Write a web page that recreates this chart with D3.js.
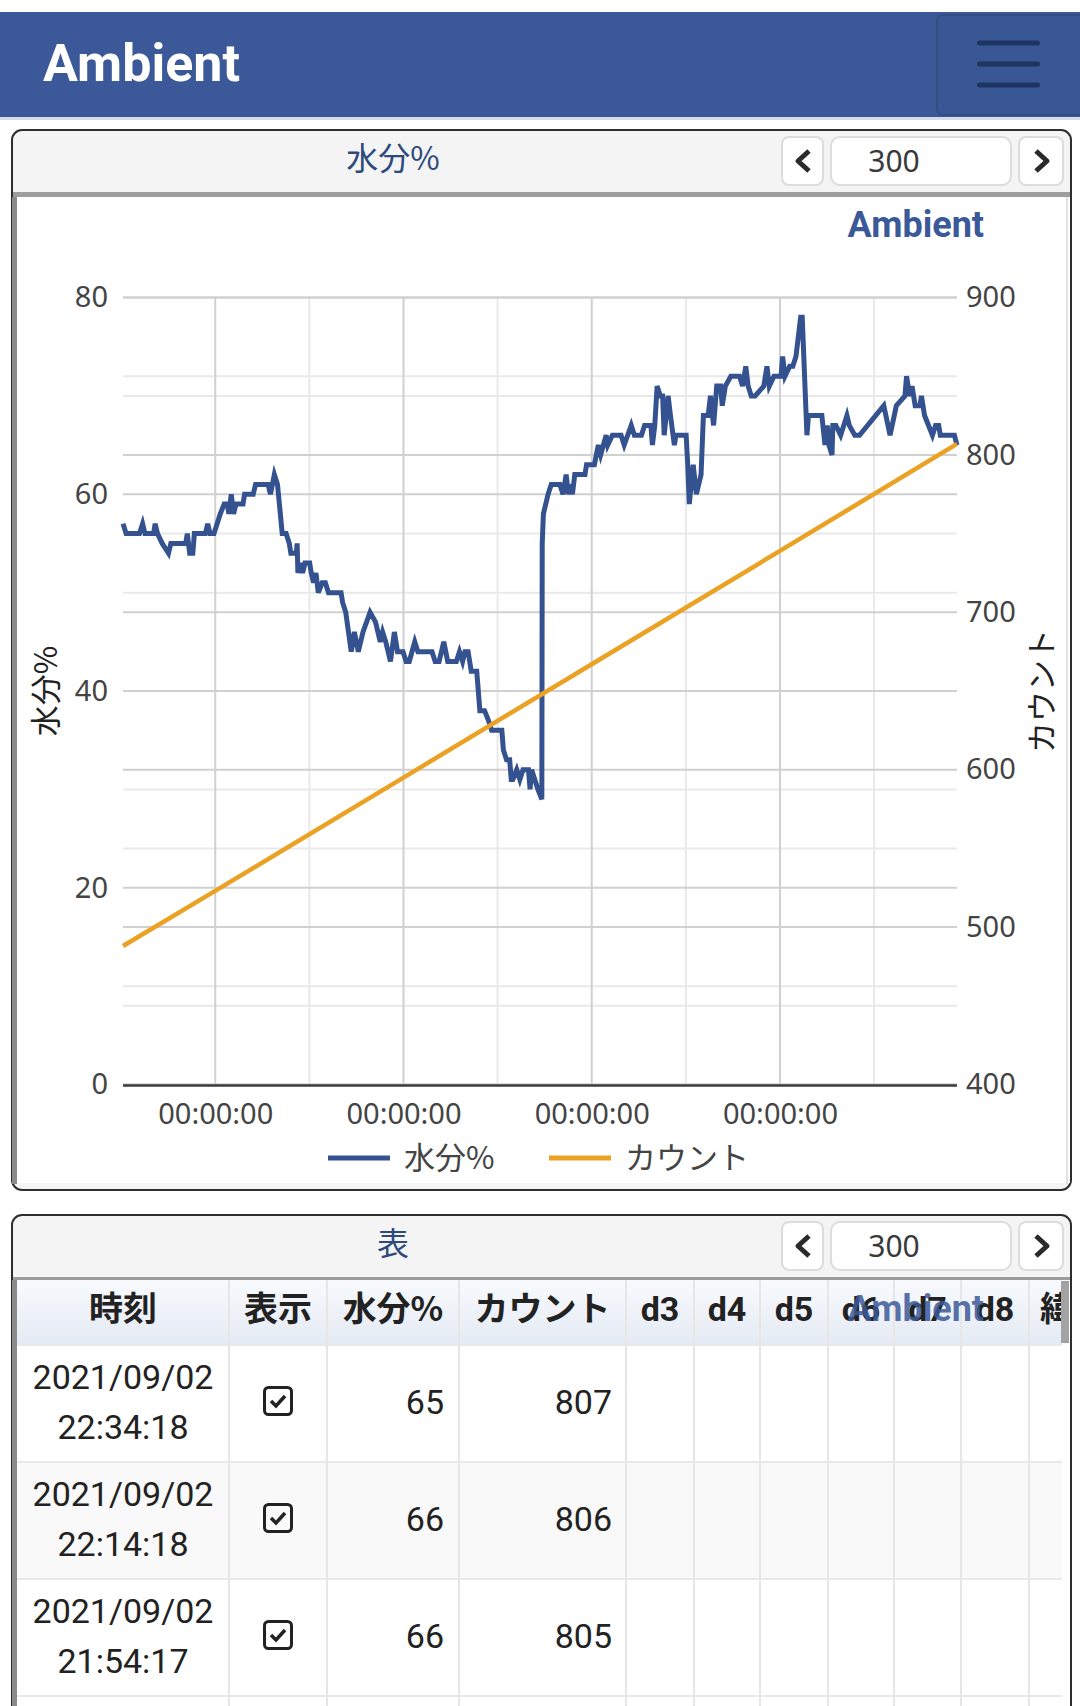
<!DOCTYPE html>
<html>
<head>
<meta charset="utf-8">
<script src="https://cdn.jsdelivr.net/npm/d3@7"></script>
<style>
  html, body { margin: 0; padding: 0; background: #fff; }
  svg { display: block; font-family: Roboto, "Noto Sans CJK JP", sans-serif; }
</style>
</head>
<body>
<svg id="page"></svg>
<script>
// ---- data ----
const startTime = "2021-08-29T12:14:18";
const endTime = "2021-09-02T22:34:18";

// hours since startTime, and moisture %
const moistureHours = [
  0, 0.4, 2.1, 2.5, 2.8, 3.9, 4.1, 4.4, 5.0, 5.8, 6.1, 8.0, 8.2, 8.5, 8.9, 9.1,
  10.5, 10.8, 11.1, 11.6, 12.0, 12.4, 12.9, 13.3, 13.5, 13.8, 14.1, 14.4, 15.3,
  15.5, 16.6, 16.9, 18.5, 18.8, 19.3, 19.7, 20.3, 20.8, 21.2, 21.4, 22.1, 22.2,
  22.3, 22.6, 22.9, 23.2, 23.8, 24.0, 24.3, 24.6, 24.9, 25.4, 25.8, 26.2, 27.8,
  28.0, 28.4, 29.1, 29.5, 30.0, 30.6, 31.5, 32.2, 32.8, 33.1, 33.5, 34.1, 34.6,
  35.0, 35.7, 36.1, 36.5, 37.2, 37.6, 39.4, 39.8, 40.3, 40.9, 41.4, 42.5, 42.9,
  43.3, 43.6, 44.0, 44.4, 45.1, 45.3, 45.5, 46.1, 46.6, 47.0, 47.6, 48.3, 48.5,
  48.9, 49.3, 49.5, 49.7, 50.2, 50.6, 51.0, 51.7, 51.9, 52.1, 52.5, 52.9, 53.4,
  53.45, 53.6, 54.2, 54.6, 55.7, 56.1, 56.5, 56.8, 57.0, 57.3, 57.6, 58.9, 59.1,
  60.1, 60.6, 60.9, 61.6, 61.8, 62.4, 63.5, 63.9, 64.8, 65.2, 66.1, 66.5, 67.3,
  67.5, 67.8, 68.1, 68.5, 68.8, 69.0, 69.5, 69.8, 70.3, 70.5, 71.8, 72.0, 72.2,
  72.7, 73.1, 73.7, 74.0, 74.6, 74.9, 75.3, 75.7, 76.2, 76.4, 76.8, 77.5, 78.6,
  79.0, 79.4, 79.7, 80.1, 80.6, 81.7, 82.1, 82.4, 83.0, 83.9, 84.1, 84.4, 85.0,
  85.4, 85.8, 86.4, 86.6, 87.2, 87.4, 89.1, 89.5, 89.8, 90.0, 90.4, 90.5, 90.9,
  91.5, 92.3, 92.6, 93.3, 93.9, 97.0, 97.8, 98.6, 99.7, 99.9, 100.3, 100.6,
  101.0, 101.6, 101.8, 102.2, 103.2, 103.6, 104.0, 104.2, 106.0, 106.33
];
const moistureValues = [
  57, 56, 56, 57, 56, 56, 57, 56, 55, 54, 55, 55, 56, 54, 54, 56,
  56, 57, 56, 56, 57, 58, 59, 59, 58, 60, 58, 59, 59,
  60, 60, 61, 61, 60, 62, 61, 56, 56, 55, 54, 54, 55,
  52, 53, 52, 53, 53, 52, 51, 52, 50, 51, 51, 50, 50,
  49, 48, 44, 46, 44, 46, 48, 47, 45, 46, 45, 43, 46,
  44, 44, 43, 43, 45, 44, 44, 43, 43, 45, 43, 43, 44,
  43, 44, 44, 42, 42, 40, 38, 38, 37, 36, 36, 36, 34,
  33, 33, 31, 31, 32, 31, 32, 32, 30, 32, 31, 30, 29,
  55, 58, 60, 61, 61, 60, 62, 60, 61, 60, 62, 62, 63,
  63, 65, 64, 66, 65, 66, 66, 65, 67, 66, 66, 67, 67,
  65, 67, 71, 70, 70, 66, 70, 68, 65, 66, 66, 63, 59,
  63, 60, 62, 68, 68, 70, 67, 71, 71, 69, 71, 72, 72,
  71, 73, 71, 70, 70, 71, 73, 71, 72, 72, 74, 72, 73,
  73, 74, 78, 78, 66, 68, 68, 65, 67, 65, 64, 67, 67,
  66, 68, 67, 66, 66, 69, 66, 69, 70, 72, 70, 71,
  69, 69, 70, 68, 66, 67, 67, 66, 66, 65
];

// count readings (hours since startTime)
const countHours = [0, 11.76, 35.76, 59.76, 83.76, 106.33];
const countValues = [488, 523, 595, 667, 739, 807];

const leftTicks = [0, 20, 40, 60, 80];
const rightTicks = [400, 500, 600, 700, 800, 900];
const seriesNames = ["水分%", "カウント"];
const pointCount = "300";

const tableColumns = ["時刻", "表示", "水分%", "カウント", "d3", "d4", "d5", "d6", "d7", "d8", "緯度"];
const tableDates = ["2021/09/02", "2021/09/02", "2021/09/02"];
const tableTimes = ["22:34:18", "22:14:18", "21:54:17"];
const tableMoisture = [65, 66, 66];
const tableCount = [807, 806, 805];

// ---- layout ----
const W = 1080, H = 1706;
const plot = { left: 123, right: 957, top: 297.5, bottom: 1084.5 };
const colEdges = [17, 229, 327, 459, 626, 694, 760, 828, 894, 961, 1029, 1115];
const rowTop = 1345, rowH = 117;

const BLUE = "#34528f";
const ORANGE = "#eba224";
const NAVY = "#3b5998";
const chartFont = "'Noto Sans', 'Noto Sans CJK JP', sans-serif";
const cjkFont = "'Noto Sans CJK JP', 'Noto Sans', sans-serif";

const svg = d3.select("#page").attr("width", W).attr("height", H);
const defs = svg.append("defs");

const g1 = defs.append("linearGradient").attr("id", "thGrad")
  .attr("x1", 0).attr("x2", 0).attr("y1", 0).attr("y2", 1);
g1.append("stop").attr("offset", "0%").attr("stop-color", "#f8fafd");
g1.append("stop").attr("offset", "100%").attr("stop-color", "#e4eaf4");

defs.append("clipPath").attr("id", "panelClip")
  .append("rect").attr("x", 17).attr("y", 1280).attr("width", 1045).attr("height", 430);

defs.append("clipPath").attr("id", "plotClip")
  .append("rect").attr("x", plot.left - 4).attr("y", plot.top - 6)
  .attr("width", plot.right - plot.left + 8).attr("height", plot.bottom - plot.top + 8);

// ---- top bar ----
svg.append("rect").attr("x", 0).attr("y", 12).attr("width", W).attr("height", 105).attr("fill", NAVY);
svg.append("rect").attr("x", 0).attr("y", 117).attr("width", W).attr("height", 3).attr("fill", "#d3dce8");
svg.append("rect").attr("x", 937).attr("y", 15).attr("width", 150).attr("height", 100).attr("rx", 6)
  .attr("fill", "#3a5795").attr("stroke", "#324c84").attr("stroke-width", 2);
[43, 64, 85].forEach(y => {
  svg.append("rect").attr("x", 977).attr("y", y - 2.5).attr("width", 63).attr("height", 5)
    .attr("rx", 2.5).attr("fill", "#1e3461");
});
svg.append("text").attr("x", 43).attr("y", 81).text("Ambient")
  .attr("font-family", "Roboto").attr("font-weight", 700).attr("font-size", 52).attr("fill", "#fff");

// ---- panel helper ----
function panel(top, bottom, title) {
  svg.append("rect").attr("x", 12).attr("y", top).attr("width", 1059).attr("height", bottom - top)
    .attr("rx", 10).attr("fill", "#f4f4f4").attr("stroke", "#2e2e2e").attr("stroke-width", 2);
  svg.append("rect").attr("x", 13).attr("y", top + 62).attr("width", 1057).attr("height", 5).attr("fill", "#9d9d9d");
  svg.append("text").attr("x", 393).attr("y", top + 29).attr("dy", "0.35em").attr("text-anchor", "middle")
    .attr("font-family", cjkFont).attr("font-size", 32).attr("fill", "#2d4a7b").text(title);

  const btnTop = top + 7;
  const btn = (x, w, rx) => svg.append("rect").attr("x", x).attr("y", btnTop).attr("width", w).attr("height", 48)
    .attr("rx", rx).attr("fill", "#fff").attr("stroke", "#dcdcdc").attr("stroke-width", 2);
  btn(782, 41, 7);
  btn(831, 180, 9);
  btn(1019, 44, 7);
  const cy = btnTop + 24;
  svg.append("path").attr("d", `M809,${cy - 10} L798,${cy} L809,${cy + 10}`)
    .attr("fill", "none").attr("stroke", "#2a2a2a").attr("stroke-width", 5).attr("stroke-linejoin", "round");
  svg.append("path").attr("d", `M1036,${cy - 10} L1047,${cy} L1036,${cy + 10}`)
    .attr("fill", "none").attr("stroke", "#2a2a2a").attr("stroke-width", 5).attr("stroke-linejoin", "round");
  svg.append("text").attr("x", 894).attr("y", cy).attr("dy", "0.35em").attr("text-anchor", "middle")
    .attr("font-family", chartFont).attr("font-size", 30).attr("fill", "#3a3a3a").text(pointCount);
}

// ---- chart panel ----
panel(130, 1190, "水分%");
svg.append("rect").attr("x", 13).attr("y", 197).attr("width", 1057).attr("height", 986).attr("fill", "#fff");
svg.append("rect").attr("x", 12).attr("y", 197).attr("width", 5).attr("height", 987).attr("fill", "#8b8b8b");
svg.append("rect").attr("x", 1066).attr("y", 197).attr("width", 2).attr("height", 987).attr("fill", "#e2e2e2");

svg.append("text").attr("x", 984).attr("y", 237).attr("text-anchor", "end")
  .attr("font-family", "Roboto").attr("font-weight", 700).attr("font-size", 36).attr("fill", NAVY).text("Ambient");

const t0 = new Date(startTime), t1 = new Date(endTime);
const toDate = h => new Date(t0.getTime() + h * 3600e3);

const x = d3.scaleTime().domain([t0, t1]).range([plot.left, plot.right]);
const yL = d3.scaleLinear().domain([leftTicks[0], leftTicks[leftTicks.length - 1]]).range([plot.bottom, plot.top]);
const yR = d3.scaleLinear().domain([rightTicks[0], rightTicks[rightTicks.length - 1]]).range([plot.bottom, plot.top]);

const grid = svg.append("g");
const minorY = yL.ticks(8).filter(v => !leftTicks.includes(v)).map(yL)
  .concat(yR.ticks(10).filter(v => !rightTicks.includes(v)).map(yR));
const majorY = leftTicks.map(yL).concat(rightTicks.map(yR));
const halfDays = x.ticks(d3.timeHour.every(12));
const minorX = halfDays.filter(d => d.getHours() !== 0).map(x);
const majorX = halfDays.filter(d => d.getHours() === 0).map(x);

grid.selectAll(".minorY").data(minorY).join("line")
  .attr("x1", plot.left).attr("x2", plot.right).attr("y1", d => d).attr("y2", d => d)
  .attr("stroke", "#e9e9e9").attr("stroke-width", 2);
grid.selectAll(".minorX").data(minorX).join("line")
  .attr("x1", d => d).attr("x2", d => d).attr("y1", plot.top).attr("y2", plot.bottom)
  .attr("stroke", "#e9e9e9").attr("stroke-width", 2);
grid.selectAll(".majorY").data(majorY).join("line")
  .attr("x1", plot.left).attr("x2", plot.right).attr("y1", d => d).attr("y2", d => d)
  .attr("stroke", "#d0d0d0").attr("stroke-width", 2);
grid.selectAll(".majorX").data(majorX).join("line")
  .attr("x1", d => d).attr("x2", d => d).attr("y1", plot.top).attr("y2", plot.bottom)
  .attr("stroke", "#d0d0d0").attr("stroke-width", 2);

svg.append("line").attr("x1", plot.left).attr("x2", plot.right)
  .attr("y1", plot.bottom + 1).attr("y2", plot.bottom + 1).attr("stroke", "#3c3c3c").attr("stroke-width", 2.5);

// axes labels via d3 axes
const styleAxis = (sel, size) => {
  sel.select(".domain").remove();
  sel.selectAll(".tick line").remove();
  sel.selectAll("text").attr("font-size", size).attr("fill", "#444").attr("font-family", chartFont);
};
svg.append("g").attr("transform", `translate(${plot.left},0)`)
  .call(d3.axisLeft(yL).tickValues(leftTicks).tickSize(0).tickPadding(15))
  .call(sel => styleAxis(sel, 29));
svg.append("g").attr("transform", `translate(${plot.right},0)`)
  .call(d3.axisRight(yR).tickValues(rightTicks).tickSize(0).tickPadding(9))
  .call(sel => styleAxis(sel, 29));
svg.append("g").attr("transform", `translate(0,${plot.bottom})`)
  .call(d3.axisBottom(x).ticks(d3.timeDay.every(1)).tickFormat(d3.timeFormat("%H:%M:%S")).tickSize(0).tickPadding(19))
  .call(sel => styleAxis(sel, 29));

const midY = (plot.top + plot.bottom) / 2;
svg.append("text").attr("transform", `translate(46,${midY}) rotate(-90)`)
  .attr("text-anchor", "middle").attr("dy", "0.35em").attr("font-family", cjkFont)
  .attr("font-size", 31).attr("fill", "#222").text(seriesNames[0]);
svg.append("text").attr("transform", `translate(1042,${midY}) rotate(-90)`)
  .attr("text-anchor", "middle").attr("dy", "0.35em").attr("font-family", cjkFont)
  .attr("font-size", 31).attr("fill", "#222").text(seriesNames[1]);

// lines
const moisture = moistureHours.map((h, i) => ({ t: toDate(h), v: moistureValues[i] }));
const counts = countHours.map((h, i) => ({ t: toDate(h), v: countValues[i] }));

const lines = svg.append("g").attr("clip-path", "url(#plotClip)");
lines.append("path").datum(moisture)
  .attr("d", d3.line().x(d => x(d.t)).y(d => yL(d.v)))
  .attr("fill", "none").attr("stroke", BLUE).attr("stroke-width", 5);
lines.append("path").datum(counts)
  .attr("d", d3.line().x(d => x(d.t)).y(d => yR(d.v)))
  .attr("fill", "none").attr("stroke", ORANGE).attr("stroke-width", 4.5);

// legend
const legend = [{ x: 328, c: BLUE }, { x: 549, c: ORANGE }];
legend.forEach((l, i) => {
  svg.append("rect").attr("x", l.x).attr("y", 1155.5).attr("width", 62).attr("height", 5).attr("fill", l.c);
  svg.append("text").attr("x", l.x + 76).attr("y", 1158).attr("dy", "0.35em").attr("font-family", cjkFont)
    .attr("font-size", 31).attr("fill", "#444").text(seriesNames[i]);
});

// ---- table panel ----
panel(1215, 1730, "表");
svg.append("rect").attr("x", 13).attr("y", 1280).attr("width", 1057).attr("height", 430).attr("fill", "#fff");

const tbl = svg.append("g").attr("clip-path", "url(#panelClip)");
tbl.append("rect").attr("x", 17).attr("y", 1280).attr("width", 1100).attr("height", rowTop - 1280)
  .attr("fill", "url(#thGrad)");
tableDates.forEach((d, i) => {
  if (i % 2 === 1) {
    tbl.append("rect").attr("x", 17).attr("y", rowTop + i * rowH).attr("width", 1100).attr("height", rowH)
      .attr("fill", "#f9f9f9");
  }
});
// cell borders
colEdges.slice(1, -1).forEach(cx => {
  tbl.append("line").attr("x1", cx).attr("x2", cx).attr("y1", 1280).attr("y2", H)
    .attr("stroke", "#e6e6e6").attr("stroke-width", 2);
});
[rowTop, rowTop + rowH, rowTop + 2 * rowH, rowTop + 3 * rowH].forEach(yy => {
  tbl.append("line").attr("x1", 17).attr("x2", 1117).attr("y1", yy).attr("y2", yy)
    .attr("stroke", "#e8e8e8").attr("stroke-width", 2);
});

tableColumns.forEach((name, i) => {
  const cx = i === tableColumns.length - 1 ? colEdges[i] + 45 : (colEdges[i] + colEdges[i + 1]) / 2;
  tbl.append("text").attr("x", cx).attr("y", 1309).attr("dy", "0.35em").attr("text-anchor", "middle")
    .attr("font-family", /^d\d$/.test(name) ? "Roboto" : cjkFont)
    .attr("font-size", 34).attr("font-weight", 700).attr("fill", "#222").text(name);
});

tableDates.forEach((d, i) => {
  const top = rowTop + i * rowH;
  const c0 = (colEdges[0] + colEdges[1]) / 2;
  tbl.append("text").attr("x", c0).attr("y", top + 32).attr("dy", "0.35em").attr("text-anchor", "middle")
    .attr("font-size", 34).attr("fill", "#222").text(d);
  tbl.append("text").attr("x", c0).attr("y", top + 82).attr("dy", "0.35em").attr("text-anchor", "middle")
    .attr("font-size", 34).attr("fill", "#222").text(tableTimes[i]);
  // checkbox
  const bx = 278, by = top + 56;
  tbl.append("rect").attr("x", bx - 13.5).attr("y", by - 13.5).attr("width", 27).attr("height", 27).attr("rx", 4)
    .attr("fill", "none").attr("stroke", "#222").attr("stroke-width", 3);
  tbl.append("path").attr("d", `M${bx - 7},${by} L${bx - 2},${by + 5} L${bx + 7},${by - 5}`)
    .attr("fill", "none").attr("stroke", "#222").attr("stroke-width", 3.5);
  tbl.append("text").attr("x", colEdges[3] - 15).attr("y", top + 57).attr("dy", "0.35em").attr("text-anchor", "end")
    .attr("font-size", 34).attr("fill", "#222").text(tableMoisture[i]);
  tbl.append("text").attr("x", colEdges[4] - 14).attr("y", top + 57).attr("dy", "0.35em").attr("text-anchor", "end")
    .attr("font-size", 34).attr("fill", "#222").text(tableCount[i]);
});

tbl.append("text").attr("x", 984).attr("y", 1321).attr("text-anchor", "end")
  .attr("font-family", "Roboto").attr("font-weight", 700).attr("font-size", 36).attr("fill", NAVY)
  .attr("fill-opacity", 0.85).text("Ambient");

svg.append("rect").attr("x", 1061).attr("y", 1281).attr("width", 8).attr("height", 62).attr("fill", "#a3a3a3");
svg.append("rect").attr("x", 12).attr("y", 1280).attr("width", 5).attr("height", 430).attr("fill", "#8b8b8b");
</script>
</body>
</html>
